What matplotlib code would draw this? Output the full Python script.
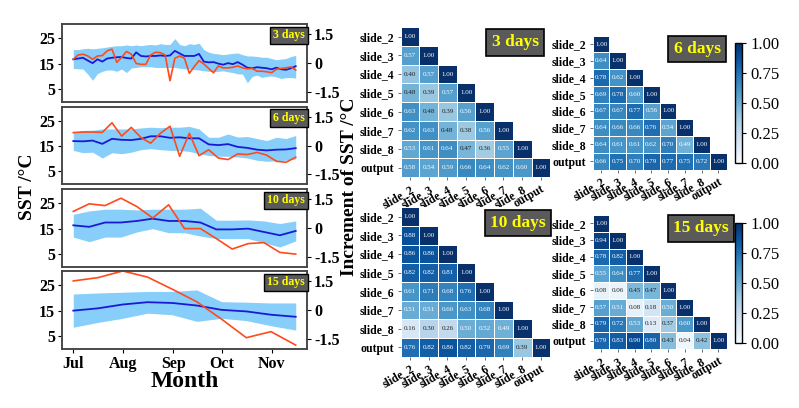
import numpy as np
import matplotlib
matplotlib.use("Agg")
import matplotlib.pyplot as plt
from matplotlib import cm, colors

plt.rcParams['font.family'] = ['Liberation Serif', 'DejaVu Serif']
plt.rcParams['font.weight'] = 'bold'
plt.rcParams['axes.labelweight'] = 'bold'

# ---- time series data (left column) ----
month_ticks = [0, 31, 62, 92, 123]
month_labels = ['Jul', 'Aug', 'Sep', 'Oct', 'Nov']
span_days = 138

mean_3 = [16.7, 17.0, 17.3, 16.2, 15.2, 16.7, 15.8, 17.0, 17.3, 17.5, 17.6, 17.2, 17.0, 19.4, 18.0, 17.8,
          18.0, 18.0, 18.2, 18.0, 18.2, 20.0, 19.0, 18.0, 18.0, 18.0, 18.8, 15.8, 15.5, 15.6, 15.0, 14.6,
          15.2, 14.8, 15.6, 14.6, 13.4, 13.2, 13.6, 13.4, 13.2, 12.8, 13.4, 12.8, 12.6, 13.2, 14.0]
upper_3 = [20.5, 20.5, 20.8, 21.0, 20.8, 21.0, 21.2, 21.5, 21.8, 22.0, 22.0, 22.3, 22.0, 22.3, 22.0, 22.3,
           22.5, 22.3, 22.8, 22.5, 22.5, 24.8, 22.5, 22.0, 22.8, 22.5, 23.0, 20.5, 19.5, 19.0, 18.8, 18.5,
           18.8, 19.0, 19.2, 18.5, 18.0, 18.0, 17.8, 17.5, 17.5, 17.0, 16.5, 16.8, 17.0, 17.8, 18.2]
lower_3 = [13.1, 13.0, 12.9, 10.9, 8.5, 11.1, 12.0, 12.5, 12.5, 12.0, 12.9, 11.5, 13.3, 13.5, 13.8, 13.8,
           13.8, 13.5, 13.5, 13.5, 13.5, 13.5, 13.2, 13.0, 12.9, 12.7, 12.5, 12.2, 12.0, 11.9, 12.0, 12.2,
           11.8, 11.5, 11.0, 10.9, 7.5, 10.0, 10.5, 9.6, 10.0, 10.2, 9.8, 9.2, 9.5, 9.6, 9.3]
incr_3 = [0.19, 0.41, 0.45, 0.36, 0.19, 0.36, 0.38, 0.62, 0.71, 0.03, 0.29, 0.59, 0.45, -0.02, -0.07, -0.07,
          0.41, 0.55, 0.53, 0.41, -0.91, 0.24, 0.36, 0.24, -0.53, -0.19, 0.12, -0.05, -0.28, -0.5, -0.15, -0.25,
          -0.25, -0.22, -0.15, -0.25, -0.3, -0.28, -0.42, -0.42, -0.45, -0.5, -0.32, -0.28, -0.25, -0.2, -0.36]

mean_6 = [17.0, 16.9, 17.2, 15.9, 17.9, 17.5, 17.4, 17.9, 18.9, 18.9, 18.3, 18.5, 18.1, 18.1, 15.7, 15.4,
          15.8, 14.7, 14.3, 13.6, 13.3, 13.6, 13.7, 14.2]
upper_6 = [20.5, 21.2, 21.3, 21.8, 21.8, 21.8, 21.8, 22.2, 22.5, 22.3, 22.5, 22.5, 22.8, 21.8, 18.5, 18.5,
           19.8, 18.6, 18.8, 18.0, 17.2, 18.5, 18.0, 19.2]
lower_6 = [13.3, 12.4, 12.6, 10.3, 12.4, 12.0, 12.6, 13.6, 14.0, 13.6, 13.3, 13.3, 12.9, 12.0, 11.3, 11.0,
           11.0, 10.7, 10.3, 9.4, 9.0, 9.2, 9.4, 10.0]
incr_6 = [0.67, 0.7, 0.7, 0.68, 1.18, 0.49, 0.94, 0.41, 0.12, 0.63, 1.0, -0.56, 0.63, -0.53, -0.22, -0.65,
          -0.73, -0.44, -0.47, -0.36, -0.5, -0.82, -0.87, -0.61]

mean_10 = [16.3, 15.7, 17.4, 17.4, 18.0, 18.9, 18.0, 18.0, 17.4, 14.7, 14.7, 15.0, 13.7, 12.4, 14.1]
upper_10 = [20.6, 21.9, 22.6, 22.6, 22.3, 22.6, 22.6, 22.6, 23.0, 18.3, 18.3, 18.4, 18.0, 17.0, 18.0]
lower_10 = [11.7, 9.9, 11.7, 11.7, 13.7, 15.0, 13.4, 13.4, 12.1, 11.1, 11.1, 11.1, 9.5, 7.8, 10.2]
incr_10 = [0.85, 1.24, 1.15, 1.53, 1.1, 0.51, 1.19, -0.03, -0.03, -0.54, -1.08, -0.8, -0.75, -1.25, -1.34]

mean_15 = [15.0, 15.9, 17.4, 18.3, 18.0, 17.0, 15.3, 14.7, 13.4, 12.6]
upper_15 = [21.5, 21.9, 22.2, 22.5, 22.5, 23.1, 18.5, 18.3, 18.0, 18.0]
lower_15 = [8.5, 10.4, 12.0, 14.0, 13.4, 10.8, 12.0, 11.1, 9.1, 7.4]
incr_15 = [1.49, 1.66, 2.0, 1.69, 1.07, 0.42, -0.47, -1.42, -1.11, -1.8]

series = [('3 days', mean_3, upper_3, lower_3, incr_3),
          ('6 days', mean_6, upper_6, lower_6, incr_6),
          ('10 days', mean_10, upper_10, lower_10, incr_10),
          ('15 days', mean_15, upper_15, lower_15, incr_15)]

# ---- correlation data (right block) ----
names = ['slide_2', 'slide_3', 'slide_4', 'slide_5', 'slide_6', 'slide_7', 'slide_8', 'output']
corr_3 = [[1.00],
          [0.57, 1.00],
          [0.40, 0.57, 1.00],
          [0.48, 0.39, 0.57, 1.00],
          [0.63, 0.48, 0.39, 0.56, 1.00],
          [0.62, 0.63, 0.48, 0.38, 0.56, 1.00],
          [0.53, 0.61, 0.64, 0.47, 0.36, 0.55, 1.00],
          [0.58, 0.54, 0.59, 0.66, 0.64, 0.62, 0.60, 1.00]]
corr_6 = [[1.00],
          [0.64, 1.00],
          [0.78, 0.62, 1.00],
          [0.69, 0.78, 0.60, 1.00],
          [0.67, 0.67, 0.77, 0.56, 1.00],
          [0.64, 0.66, 0.66, 0.76, 0.54, 1.00],
          [0.64, 0.61, 0.61, 0.62, 0.70, 0.49, 1.00],
          [0.66, 0.75, 0.70, 0.79, 0.77, 0.75, 0.72, 1.00]]
corr_10 = [[1.00],
           [0.88, 1.00],
           [0.86, 0.86, 1.00],
           [0.82, 0.82, 0.81, 1.00],
           [0.61, 0.71, 0.68, 0.76, 1.00],
           [0.51, 0.51, 0.60, 0.63, 0.68, 1.00],
           [0.16, 0.30, 0.26, 0.50, 0.52, 0.49, 1.00],
           [0.76, 0.82, 0.86, 0.82, 0.79, 0.69, 0.39, 1.00]]
corr_15 = [[1.00],
           [0.94, 1.00],
           [0.78, 0.82, 1.00],
           [0.55, 0.64, 0.77, 1.00],
           [0.08, 0.06, 0.45, 0.47, 1.00],
           [0.57, 0.51, 0.08, 0.18, 0.50, 1.00],
           [0.79, 0.72, 0.53, 0.13, 0.37, 0.60, 1.00],
           [0.79, 0.83, 0.90, 0.80, 0.43, 0.04, 0.42, 1.00]]

W, H = 799, 408
fig = plt.figure(figsize=(W / 100, H / 100), dpi=100)


def box(x0, y0, x1, y1):
    return [x0 / W, 1 - y1 / H, (x1 - x0) / W, (y1 - y0) / H]


label_box = dict(boxstyle='square,pad=0.25', fc='#5a5a5a', ec='black', lw=1)

# ---- left: time series panels ----
rows_px = [(24, 102), (107, 184), (189, 267), (271, 349)]
for i, (lab, mean, up, lo, inc) in enumerate(series):
    ax = fig.add_axes(box(62, rows_px[i][0], 307, rows_px[i][1]))
    x = np.linspace(0, span_days, len(mean))
    ax.fill_between(x, lo, up, color='#87cefa', lw=0)
    ax.plot(x, mean, color='#1a1ad6', lw=1.3)
    ax.set_ylim(0, 30.5)
    ax.set_xlim(-7, 145)
    ax.set_yticks([5, 15, 25])
    ax.tick_params(labelsize=11.5, length=3, pad=2)
    ax2 = ax.twinx()
    ax2.plot(x, inc, color='#ff4a1c', lw=1.2)
    ax2.set_ylim(-2, 2)
    ax2.set_yticks([-1.5, 0, 1.5])
    ax2.set_yticklabels(['-1.5', '0', '1.5'])
    ax2.tick_params(labelsize=11.5, length=3, pad=2)
    for a in (ax, ax2):
        for s in a.spines.values():
            s.set_color('#444444')
            s.set_linewidth(1.1)
    if i < 3:
        ax.set_xticks([])
    else:
        ax.set_xticks(month_ticks)
        ax.set_xticklabels(month_labels)
        ax.set_xlabel('Month', fontsize=17, labelpad=-1)
    ax2.text(0.992, 0.93, lab, transform=ax.transAxes, ha='right', va='top',
             color='#ffff00', fontsize=8.5, bbox=label_box, zorder=10)

fig.text(28 / W, 1 - 187 / H, 'SST /°C', rotation=90, ha='center', va='center', fontsize=14)
fig.text(349 / W, 1 - 187 / H, 'Increment of SST /°C', rotation=90, ha='center', va='center', fontsize=14)

# ---- right: correlation heatmaps ----
cmap = plt.get_cmap('Blues')
norm = colors.Normalize(0, 1)


def text_color(v):
    r, g, b, _ = cmap(norm(v))
    lin = [c / 12.92 if c <= 0.03928 else ((c + 0.055) / 1.055) ** 2.4 for c in (r, g, b)]
    lum = 0.2126 * lin[0] + 0.7152 * lin[1] + 0.0722 * lin[2]
    return '#222222' if lum > 0.408 else 'white'


heat = [(corr_3, '3 days', (400.7, 27.3, 550.2, 177), (488, 30.7, 542, 54), None),
        (corr_6, '6 days', (592.7, 35.7, 726.7, 169.5), (670.7, 37, 723.3, 60.7), (735, 42.7, 741.7, 162.7)),
        (corr_10, '10 days', (400.7, 207.4, 550.2, 356.5), (488, 211.7, 548, 234), None),
        (corr_15, '15 days', (592.7, 215, 726.7, 349), (670.7, 216.7, 731.7, 240), (735, 222.7, 741.7, 342.7))]

n = len(names)
for data, lab, hb, lb, cb in heat:
    m = np.full((n, n), np.nan)
    for r, row in enumerate(data):
        m[r, :len(row)] = row
    ax = fig.add_axes(box(*hb))
    ax.pcolormesh(np.ma.masked_invalid(m), cmap=cmap, norm=norm, edgecolors='white', linewidth=0.6)
    ax.set_xlim(0, n)
    ax.set_ylim(n, 0)
    for r, row in enumerate(data):
        for c, v in enumerate(row):
            ax.text(c + 0.5, r + 0.5, f'{v:.2f}', ha='center', va='center', fontsize=5,
                    fontweight='normal', color=text_color(v))
    ax.set_xticks(np.arange(n) + 0.5)
    ax.set_yticks(np.arange(n) + 0.5)
    ax.set_xticklabels(names, rotation=30, ha='right', rotation_mode='anchor', fontsize=8.5)
    ax.set_yticklabels(names, fontsize=8.5)
    ax.tick_params(length=2.5, width=0.6, color='#555555', pad=2)
    for s in ax.spines.values():
        s.set_visible(False)
    fig.text((lb[0] + lb[2]) / 2 / W, 1 - (lb[1] + lb[3]) / 2 / H, lab, ha='center', va='center',
             color='#ffff00', fontsize=12.5, bbox=dict(boxstyle='square,pad=0.3', fc='#5a5a5a', ec='black', lw=1.2))
    if cb is not None:
        cax = fig.add_axes(box(*cb))
        cbar = fig.colorbar(cm.ScalarMappable(norm=norm, cmap=cmap), cax=cax)
        cbar.set_ticks([0, 0.25, 0.5, 0.75, 1.0])
        cbar.ax.set_yticklabels(['0.00', '0.25', '0.50', '0.75', '1.00'], fontsize=12, fontweight='normal')
        cbar.ax.tick_params(length=3)
        cbar.outline.set_linewidth(1)

fig.savefig('out.png', dpi=100)
